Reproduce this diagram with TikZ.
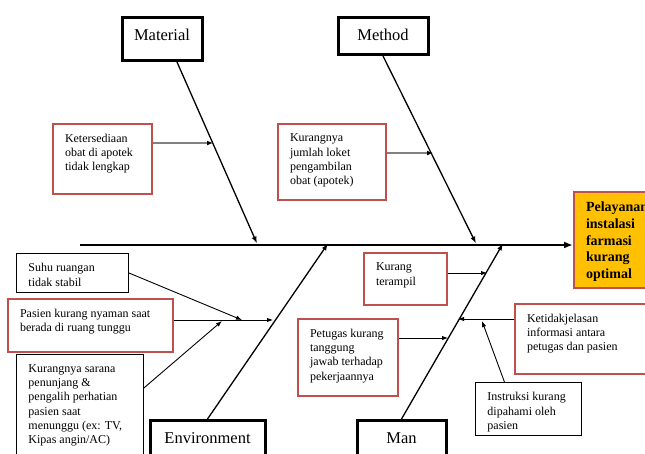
\documentclass[tikz,border=0pt]{standalone}
\usepackage{fontspec}
\setmainfont{Liberation Serif}
\usepackage{tikz}
\usetikzlibrary{arrows.meta}

\definecolor{causered}{HTML}{C0504D}
\definecolor{effectorange}{HTML}{FFC000}

\newcommand{\boxtxt}[3]{\parbox[c][#2][t]{#1}{\raggedright #3}}

\begin{document}
\begin{tikzpicture}[x=1pt, y=-1pt,
		cat/.style={draw, line width=3pt, anchor=north, inner ysep=5pt, text height=18pt, font=\fontsize{16.5}{20}\selectfont},
		cause/.style={draw=causered, line width=2pt, anchor=north west, inner xsep=12pt, inner ysep=10pt, font=\fontsize{12}{14.3}\selectfont},
		note/.style={cause, draw=black, line width=0.9pt},
		bone/.style={line width=1.3pt, -{Latex[length=7pt,width=5pt]}},
		sub/.style={line width=0.9pt, -{Latex[length=6pt,width=4.5pt]}},
		subgray/.style={draw=gray, line width=2pt, -{Latex[length=6pt,width=5pt,color=black]}}]
		\useasboundingbox (0,0) rectangle (645,453);
		\node[cat, minimum width=80pt, text depth=15pt] (mat) at (162,16) {Material};
		\node[cat, minimum width=90pt, text depth=9pt] (met) at (383,16) {Method};
		\node[cat, minimum width=115pt, text depth=15pt] (env) at (207.5,419) {Environment};
		\node[cat, minimum width=89pt, text depth=15pt] (man) at (401.5,419) {Man};
		\node[cause, fill=effectorange, font=\fontsize{14}{16.7}\selectfont\bfseries] (eff) at (573,191) {\boxtxt{66pt}{76pt}{Pelayanan\\instalasi\\farmasi\\kurang\\optimal}};
		\node[cause] (ket) at (52,123) {\boxtxt{75pt}{50pt}{Ketersediaan\\obat di apotek\\tidak lengkap}};
		\node[cause] (lok) at (277,123) {\boxtxt{84pt}{56pt}{Kurangnya\\jumlah loket\\pengambilan\\obat (apotek)}};
		\node[note] (suhu) at (16,253) {\boxtxt{88pt}{19pt}{Suhu ruangan\\tidak stabil}};
		\node[cause] (nyaman) at (7,298) {\boxtxt{141pt}{33pt}{Pasien kurang nyaman saat\\berada di ruang tunggu}};
		\node[note] (sarana) at (16,354) {\boxtxt{103pt}{81pt}{Kurangnya sarana\\penunjang \&\\pengalih perhatian\\pasien saat\\menunggu (ex: TV,\\Kipas angin/AC)}};
		\node[cause] (terampil) at (363,252) {\boxtxt{59pt}{32pt}{Kurang\\terampil}};
		\node[cause] (petugas) at (297,318) {\boxtxt{76pt}{57pt}{Petugas kurang\\tanggung\\jawab terhadap\\pekerjaannya}};
		\node[cause] (jelas) at (514,303) {\boxtxt{126pt}{50pt}{Ketidakjelasan\\informasi antara\\petugas dan pasien}};
		\node[note] (instr) at (475,382) {\boxtxt{82pt}{33pt}{Instruksi kurang\\dipahami oleh\\pasien}};
		\coordinate (tail) at (80,245);
		\draw[line width=2.5pt, -{Latex[length=9pt,width=7pt]}] (tail) -- (tail -| eff.west);
		\coordinate (b1) at (257,243.5);
		\coordinate (b2) at (476,243.5);
		\coordinate (b3) at (328,243.5);
		\coordinate (b4) at (503,243.5);
		\draw[bone] ([xshift=15pt]mat.south) -- (b1);
		\draw[bone] (met.south) -- (b2);
		\draw[bone] (env.north) -- (b3);
		\draw[bone] (man.north) -- (b4);
		\coordinate (k1) at (213,143);
		\coordinate (k2) at (433,153);
		\draw[subgray] (ket.east |- k1) -- (k1);
		\draw[subgray] (lok.east |- k2) -- (k2);
		\coordinate (e1) at (242,320);
		\coordinate (e2) at (273,320);
		\coordinate (e3) at (222,321);
		\draw[sub] (suhu.east) -- (e1);
		\draw[sub] (nyaman.east |- e2) -- (e2);
		\draw[sub] ([yshift=17pt]sarana.east) -- (e3);
		\coordinate (m1) at (487,273);
		\coordinate (m2) at (448,338);
		\coordinate (m3) at (458,319);
		\coordinate (m4) at (482,321);
		\draw[sub] (terampil.east |- m1) -- (m1);
		\draw[sub] (petugas.east |- m2) -- (m2);
		\draw[sub] (jelas.west |- m3) -- (m3);
		\draw[sub] ([xshift=-24pt]instr.north) -- (m4);
\end{tikzpicture}
\end{document}
